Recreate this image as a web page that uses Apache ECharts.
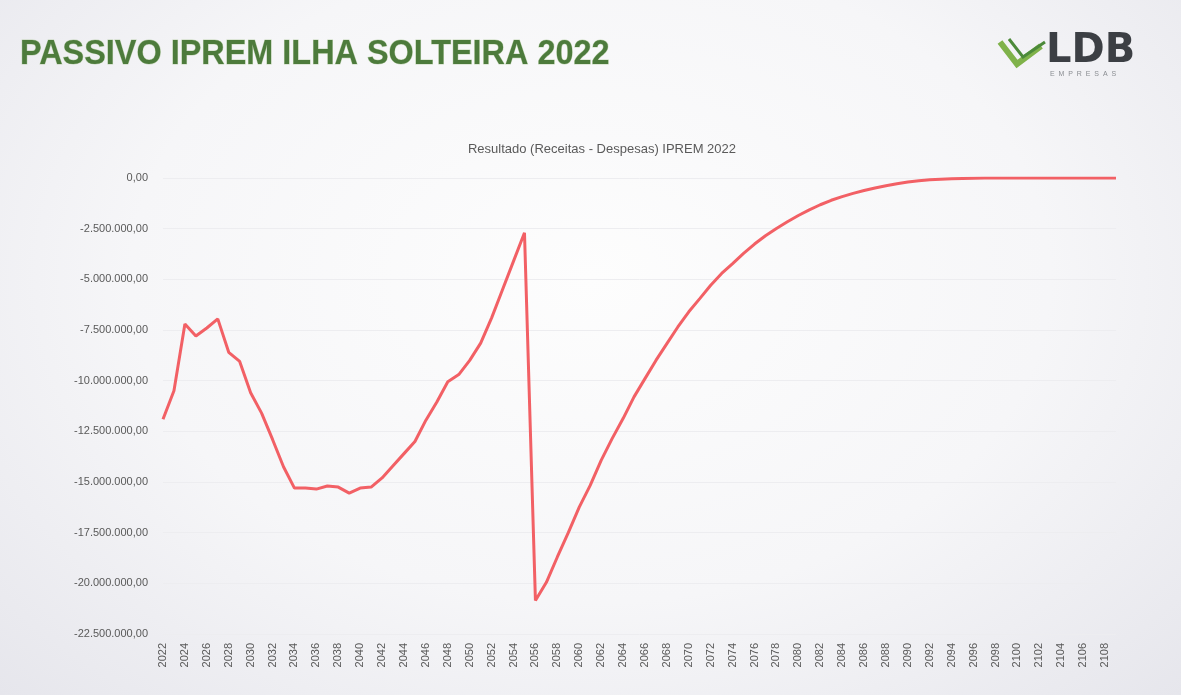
<!DOCTYPE html>
<html>
<head>
<meta charset="utf-8">
<script src="https://cdn.jsdelivr.net/npm/echarts@6/dist/echarts.min.js"></script>
<style>
html,body{margin:0;padding:0;}
body{width:1181px;height:695px;overflow:hidden;background:radial-gradient(ellipse at 50% 40%,#fdfdfd 0%,#f6f6f8 55%,#e6e6ec 100%);}
#c{width:1181px;height:695px;}
</style>
</head>
<body>
<div id="c"></div>
<script>
const years = [];
for (let y = 2022; y <= 2109; y++) years.push(String(y));

const resultado = [
  -11900000, -10500000, -7200000, -7800000, -7400000, -6950000, -8600000, -9050000, -10600000, -11600000,
  -12900000, -14250000, -15300000, -15300000, -15350000, -15200000, -15250000, -15550000, -15300000, -15250000,
  -14800000, -14200000, -13600000, -13000000, -11950000, -11050000, -10050000, -9700000, -9000000, -8150000,
  -6900000, -5500000, -4100000, -2700000, -20850000, -19950000, -18700000, -17500000, -16240000, -15170000,
  -13930000, -12860000, -11870000, -10800000, -9900000, -9000000, -8170000, -7350000, -6600000, -5950000,
  -5290000, -4710000, -4220000, -3720000, -3260000, -2850000, -2490000, -2160000, -1850000, -1570000,
  -1320000, -1100000, -920000, -760000, -620000, -490000, -380000, -280000, -200000, -140000,
  -90000, -60000, -35000, -20000, -10000, -5000, -2000, 0, 0, 0,
  0, 0, 0, 0, 0, 0, 0, 0
];

const pageTitle = 'PASSIVO IPREM ILHA SOLTEIRA 2022';
const chartTitle = 'Resultado (Receitas - Despesas) IPREM 2022';

function fmtBR(v) {
  const neg = v < 0;
  const a = Math.abs(v);
  const intPart = Math.floor(a).toString().replace(/\B(?=(\d{3})+(?!\d))/g, '.');
  return (neg ? '-' : '') + intPart + ',00';
}

const chart = echarts.init(document.getElementById('c'), null, {renderer: 'canvas'});
chart.setOption({
  backgroundColor: 'transparent',
  animation: false,
  title: {
    text: chartTitle,
    left: 597, top: 138, textAlign: 'center',
    textStyle: {fontFamily: 'Liberation Sans', fontSize: 13, fontWeight: 'normal', color: '#5a5a5a'}
  },
  graphic: [
    {type: 'text', x: 20, y: 37, scaleX: 0.926, scaleY: 1, style: {text: pageTitle, font: 'bold 35px "Liberation Sans", sans-serif', fill: '#4d7b3c', stroke: 'rgba(110,160,70,0.35)', lineWidth: 1}},
    {type: 'polyline', shape: {points: [[1000, 42], [1017, 64], [1041, 46]]}, style: {stroke: '#7fb24a', lineWidth: 6, fill: null, lineJoin: 'miter'}},
    {type: 'polyline', shape: {points: [[1009, 39], [1023, 57], [1045, 42]]}, style: {stroke: '#4c8a3a', lineWidth: 3, fill: null}},
    {type: 'text', x: 1046, y: 32, style: {text: 'LDB', font: 'bold 40px "DejaVu Sans", sans-serif', fill: '#3c3f44'}},
    {type: 'text', x: 1050, y: 71, style: {text: 'E  M  P  R  E  S  A  S', font: '7px "Liberation Sans", sans-serif', fill: '#8a8d92'}}
  ],
  grid: {left: 163, right: 65, top: 178, bottom: 61, containLabel: false},
  xAxis: {
    type: 'category',
    data: years,
    boundaryGap: false,
    axisLine: {show: false},
    axisTick: {show: false},
    splitLine: {show: false},
    axisLabel: {
      interval: 1, rotate: 90, margin: 9,
      fontFamily: 'Liberation Sans', fontSize: 11, color: '#595959'
    }
  },
  yAxis: {
    type: 'value',
    min: -22500000, max: 0, interval: 2500000,
    axisLine: {show: false},
    axisTick: {show: false},
    splitLine: {show: true, lineStyle: {color: '#ededf0', width: 1}},
    axisLabel: {
      margin: 15, fontFamily: 'Liberation Sans', fontSize: 11, color: '#595959',
      formatter: fmtBR
    }
  },
  series: [{
    type: 'line',
    name: 'Resultado',
    data: resultado,
    showSymbol: false,
    smooth: false,
    lineStyle: {color: '#f26065', width: 3},
    itemStyle: {color: '#f26065'}
  }]
});
</script>
</body>
</html>
